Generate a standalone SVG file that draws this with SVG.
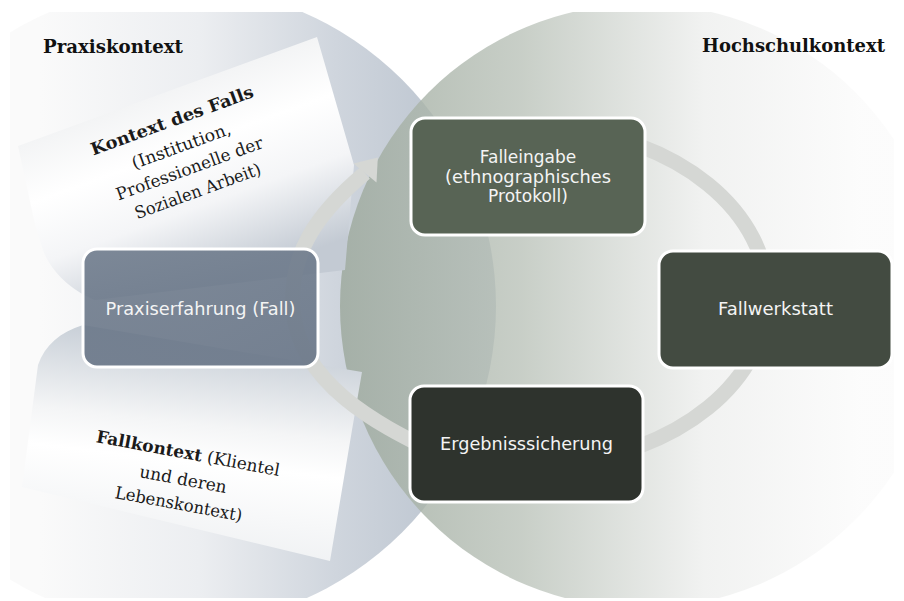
<svg xmlns="http://www.w3.org/2000/svg" width="904" height="601" viewBox="0 0 904 601">
<defs>
  <clipPath id="frame"><rect x="10" y="12" width="884" height="586"/></clipPath>
  <linearGradient id="gL" gradientUnits="userSpaceOnUse" x1="40" y1="0" x2="496" y2="0">
    <stop offset="0" stop-color="#fafafa"/>
    <stop offset="0.35" stop-color="#eceef1"/>
    <stop offset="0.65" stop-color="#cfd5dd"/>
    <stop offset="1" stop-color="#b5bfcb"/>
  </linearGradient>
  <linearGradient id="gR" gradientUnits="userSpaceOnUse" x1="340" y1="0" x2="860" y2="0">
    <stop offset="0" stop-color="#9ca89c"/>
    <stop offset="0.35" stop-color="#bcc4bb"/>
    <stop offset="0.7" stop-color="#eeefee"/>
    <stop offset="1" stop-color="#fbfbfb"/>
  </linearGradient>
  <linearGradient id="gP1" gradientUnits="userSpaceOnUse" x1="160" y1="93" x2="228" y2="281">
    <stop offset="0" stop-color="#f3f4f5"/>
    <stop offset="0.3" stop-color="#ffffff"/>
    <stop offset="0.6" stop-color="#f4f5f7"/>
    <stop offset="1" stop-color="#c3cad3"/>
  </linearGradient>
  <linearGradient id="gP2" gradientUnits="userSpaceOnUse" x1="200" y1="340" x2="175" y2="560">
    <stop offset="0" stop-color="#c9d0d8"/>
    <stop offset="0.38" stop-color="#f4f5f6"/>
    <stop offset="0.55" stop-color="#ffffff"/>
    <stop offset="1" stop-color="#eef0f2"/>
  </linearGradient>
  <linearGradient id="gBox1" x1="0" y1="0" x2="0" y2="1">
    <stop offset="0" stop-color="#6c798a"/>
    <stop offset="1" stop-color="#667385"/>
  </linearGradient>
</defs>
<style>
  .title{font-family:"DejaVu Serif","Liberation Serif",serif;font-weight:bold;font-size:18px;fill:#111}
  .ptxt{font-family:"DejaVu Serif","Liberation Serif",serif;font-size:17px;fill:#1a1a1a;text-anchor:middle}
  .b{font-weight:bold}
  .box{stroke:#ffffff;stroke-width:3}
  .lbl{font-family:"DejaVu Sans","Liberation Sans",sans-serif;font-size:17px;fill:#f4f4f4;text-anchor:middle}
  .arc{fill:none;stroke:#d5d7d4;stroke-width:15}
</style>

<g id="background" clip-path="url(#frame)">
  <circle cx="176" cy="306" r="320" fill="url(#gL)"/>
  <circle cx="642" cy="306" r="302" fill="url(#gR)" opacity="0.82"/>
</g>

<g id="paper-kontext-des-falls">
  <path d="M18,146 L317,37 L354,165 L345,270 L95,300 C70,290 50,270 43,250 C40,240 36,230 34,220 Z" fill="url(#gP1)"/>
  <g transform="translate(174,126) rotate(-20)">
    <text class="ptxt b" x="0" y="0" font-size="18" textLength="172" lengthAdjust="spacingAndGlyphs">Kontext des Falls</text>
    <text class="ptxt" x="0" y="27" textLength="104" lengthAdjust="spacingAndGlyphs">(Institution,</text>
    <text class="ptxt" x="0" y="51" textLength="155" lengthAdjust="spacingAndGlyphs">Professionelle der</text>
    <text class="ptxt" x="0" y="75" textLength="133" lengthAdjust="spacingAndGlyphs">Sozialen Arbeit)</text>
  </g>
</g>

<g id="paper-fallkontext">
  <path d="M83,325 C60,332 45,345 38,365 L22,487 L330,561 L352,430 L362,372 Z" fill="url(#gP2)"/>
  <g transform="translate(187,459) rotate(10.5)">
    <text class="ptxt" x="0" y="0"><tspan class="b">Fallkontext</tspan> (Klientel</text>
    <text class="ptxt" x="0" y="26.5">und deren</text>
    <text class="ptxt" x="0" y="51.5" textLength="129" lengthAdjust="spacingAndGlyphs">Lebenskontext)</text>
  </g>
</g>

<g id="titles">
  <text class="title" x="43" y="53" textLength="140" lengthAdjust="spacingAndGlyphs">Praxiskontext</text>
  <text class="title" x="702" y="52" textLength="183" lengthAdjust="spacingAndGlyphs">Hochschulkontext</text>
</g>

<g id="connectors">
  <path class="arc" d="M430,450 C380,425 300,385 293,310 C289,255 315,215 365,173"/>
  <polygon points="353.5,163.4 377.8,157.6 376.5,182.6" fill="#d5d7d4"/>
  <path class="arc" d="M560,127.6 A240,170 0 0 1 560,464.4"/>
</g>

<g id="node-praxiserfahrung">
  <rect class="box" x="83" y="249" width="235" height="118" rx="14" fill="url(#gBox1)" fill-opacity="0.88"/>
  <text class="lbl" x="200.5" y="315" textLength="190" lengthAdjust="spacingAndGlyphs">Praxiserfahrung (Fall)</text>
</g>

<g id="node-falleingabe">
  <rect class="box" x="411" y="118" width="234" height="117" rx="14" fill="#586455"/>
  <text class="lbl" x="528" y="163">Falleingabe</text>
  <text class="lbl" x="528" y="182.5" textLength="166" lengthAdjust="spacingAndGlyphs">(ethnographisches</text>
  <text class="lbl" x="528" y="202">Protokoll)</text>
</g>

<g id="node-fallwerkstatt">
  <rect class="box" x="659" y="251" width="233" height="117" rx="14" fill="#434b41"/>
  <text class="lbl" x="775.5" y="315" textLength="115" lengthAdjust="spacingAndGlyphs">Fallwerkstatt</text>
</g>

<g id="node-ergebnissicherung">
  <rect class="box" x="410" y="386" width="233" height="116" rx="14" fill="#2e332d"/>
  <text class="lbl" x="526.5" y="450" textLength="173" lengthAdjust="spacingAndGlyphs">Ergebnisssicherung</text>
</g>
</svg>
